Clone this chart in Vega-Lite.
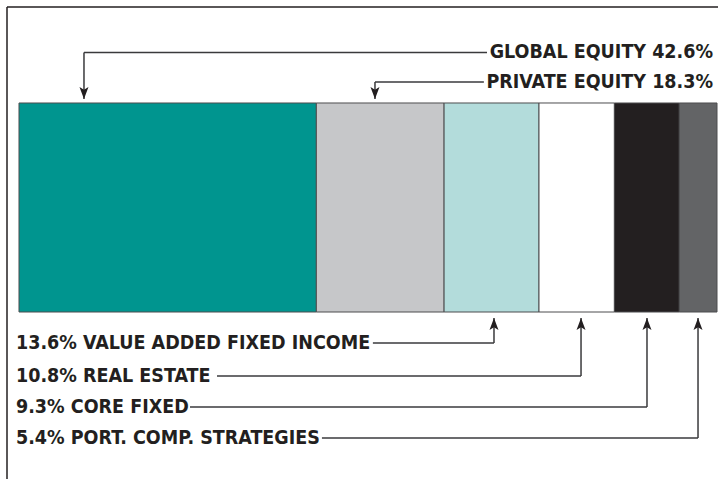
{
  "$schema": "https://vega.github.io/schema/vega-lite/v6.json",
  "autosize": "none",
  "width": 711,
  "height": 472,
  "padding": {"left": 7, "top": 7, "right": 0, "bottom": 0},
  "background": "#ffffff",
  "config": {"view": {"stroke": null}},
  "datasets": {
    "segments": [
      {"idx": 1, "category": "Global Equity", "pct": 42.6},
      {"idx": 2, "category": "Private Equity", "pct": 18.3},
      {"idx": 3, "category": "Value Added Fixed Income", "pct": 13.6},
      {"idx": 4, "category": "Real Estate", "pct": 10.8},
      {"idx": 5, "category": "Core Fixed", "pct": 9.3},
      {"idx": 6, "category": "Port. Comp. Strategies", "pct": 5.4}
    ],
    "notes": [
      {"label": "GLOBAL EQUITY 42.6%", "side": "top", "dir": "down", "ax": 9.31, "ly": 12.42, "hx1": 9.31, "hx2": 67.05, "tx": 99.43, "tipy": 10.19},
      {"label": "PRIVATE EQUITY 18.3%", "side": "top", "dir": "down", "ax": 51.0, "ly": 11.0, "hx1": 51.0, "hx2": 66.6, "tx": 99.43, "tipy": 10.19},
      {"label": "13.6% VALUE ADDED FIXED INCOME", "side": "bottom", "dir": "up", "ax": 68.05, "ly": -1.48, "hx1": 50.7, "hx2": 68.05, "tx": -0.43, "tipy": -0.29},
      {"label": "10.8% REAL ESTATE", "side": "bottom", "dir": "up", "ax": 80.52, "ly": -3.06, "hx1": 28.37, "hx2": 80.52, "tx": -0.43, "tipy": -0.29},
      {"label": "9.3% CORE FIXED", "side": "bottom", "dir": "up", "ax": 89.97, "ly": -4.55, "hx1": 24.5, "hx2": 89.97, "tx": -0.43, "tipy": -0.29},
      {"label": "5.4% PORT. COMP. STRATEGIES", "side": "bottom", "dir": "up", "ax": 97.28, "ly": -6.03, "hx1": 43.4, "hx2": 97.28, "tx": -0.43, "tipy": -0.29}
    ]
  },
  "resolve": {"scale": {"x": "shared", "y": "shared"}},
  "layer": [
    {
      "data": {"name": "segments"},
      "transform": [
        {"stack": "pct", "groupby": [], "sort": [{"field": "idx", "order": "ascending"}], "as": ["x0", "x1"]}
      ],
      "mark": {"type": "rect", "stroke": "#4d4d4f", "strokeWidth": 1},
      "encoding": {
        "x": {"field": "x0", "type": "quantitative", "scale": {"domain": [-1.719, 100.143], "nice": false, "zero": false}, "axis": null},
        "x2": {"field": "x1"},
        "y": {"datum": 10, "type": "quantitative", "scale": {"domain": [-7.99, 14.593], "nice": false, "zero": false}, "axis": null},
        "y2": {"datum": 0},
        "color": {
          "field": "category", "type": "nominal", "legend": null,
          "scale": {
            "domain": ["Global Equity", "Private Equity", "Value Added Fixed Income", "Real Estate", "Core Fixed", "Port. Comp. Strategies"],
            "range": ["#00958f", "#c6c7c9", "#b3dcdb", "#ffffff", "#231f20", "#636466"]
          }
        }
      }
    },
    {
      "data": {"values": [{}]},
      "mark": {"type": "rule", "color": "#231f20", "strokeWidth": 1.5},
      "encoding": {
        "x": {"datum": -1.719, "type": "quantitative"},
        "x2": {"datum": 100.143},
        "y": {"datum": 14.593, "type": "quantitative"}
      }
    },
    {
      "data": {"values": [{}]},
      "mark": {"type": "rule", "color": "#231f20", "strokeWidth": 1.5},
      "encoding": {
        "x": {"datum": -1.719, "type": "quantitative"},
        "y": {"datum": -7.99, "type": "quantitative"},
        "y2": {"datum": 14.593}
      }
    },
    {
      "data": {"name": "notes"},
      "mark": {"type": "rule", "color": "#3a3a3c", "strokeWidth": 1.5},
      "encoding": {
        "x": {"field": "hx1", "type": "quantitative"},
        "x2": {"field": "hx2"},
        "y": {"field": "ly", "type": "quantitative"}
      }
    },
    {
      "data": {"name": "notes"},
      "mark": {"type": "rule", "color": "#3a3a3c", "strokeWidth": 1.5},
      "encoding": {
        "x": {"field": "ax", "type": "quantitative"},
        "y": {"field": "ly", "type": "quantitative"},
        "y2": {"field": "tipy"}
      }
    },
    {
      "data": {"name": "notes"},
      "mark": {"type": "point", "filled": true, "opacity": 1, "size": 144, "color": "#231f20", "strokeWidth": 0},
      "encoding": {
        "x": {"field": "ax", "type": "quantitative"},
        "y": {"field": "tipy", "type": "quantitative"},
        "shape": {
          "field": "dir", "type": "nominal", "legend": null,
          "scale": {"domain": ["down", "up"], "range": ["M0,0L-0.75,-2L0,-1.55L0.75,-2Z", "M0,0L-0.75,2L0,1.55L0.75,2Z"]}
        }
      }
    },
    {
      "data": {"name": "notes"},
      "transform": [{"filter": "datum.side === 'top'"}],
      "mark": {"type": "text", "align": "right", "baseline": "middle", "font": "DejaVu Sans Condensed, Roboto Condensed, Arial Narrow, Roboto", "fontWeight": "bold", "fontSize": 19.5, "color": "#231f20"},
      "encoding": {
        "x": {"field": "tx", "type": "quantitative"},
        "y": {"field": "ly", "type": "quantitative"},
        "text": {"field": "label"}
      }
    },
    {
      "data": {"name": "notes"},
      "transform": [{"filter": "datum.side === 'bottom'"}],
      "mark": {"type": "text", "align": "left", "baseline": "middle", "font": "DejaVu Sans Condensed, Roboto Condensed, Arial Narrow, Roboto", "fontWeight": "bold", "fontSize": 19.5, "color": "#231f20"},
      "encoding": {
        "x": {"field": "tx", "type": "quantitative"},
        "y": {"field": "ly", "type": "quantitative"},
        "text": {"field": "label"}
      }
    }
  ]
}
